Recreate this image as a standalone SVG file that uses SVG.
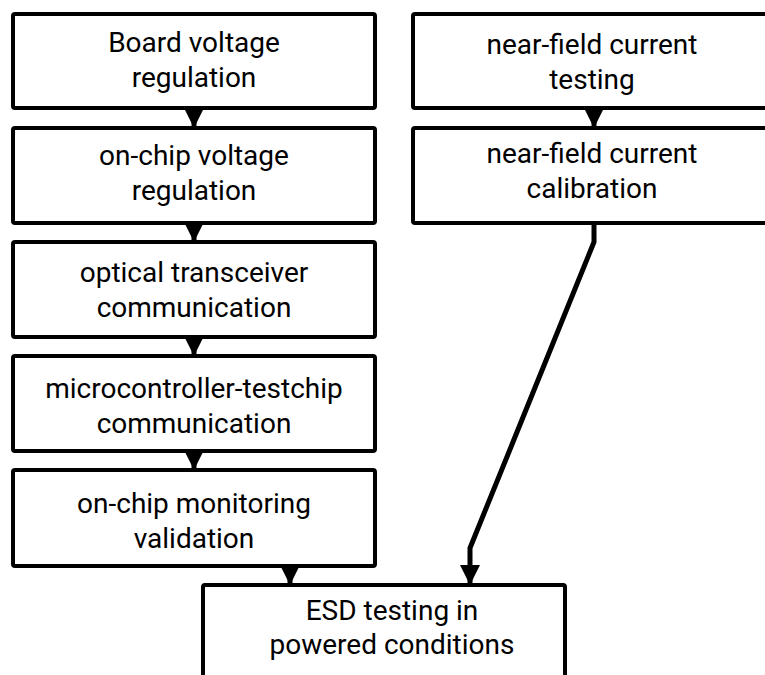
<svg xmlns="http://www.w3.org/2000/svg" width="765" height="675" viewBox="0 0 765 675">
<style>
.box{fill:#fff;stroke:#000;stroke-width:4;}
.lbl{font-family:Roboto,"Liberation Sans",sans-serif;font-size:28px;fill:#000;text-anchor:middle;}
.edge{fill:none;stroke:#000;stroke-width:5;stroke-linejoin:miter;}
</style>
<defs>
<marker id="ah" viewBox="0 0 20 20" refX="20" refY="10" markerWidth="20" markerHeight="20" markerUnits="userSpaceOnUse" orient="auto">
<path d="M0,0 L20,10 L0,20 Z" fill="#000"/>
</marker>
</defs>
<rect width="765" height="675" fill="#fff"/>
<g id="n1"><rect class="box" x="13" y="14" width="362" height="94" rx="2"/><text class="lbl" x="194" y="52">Board voltage</text><text class="lbl" x="194" y="87">regulation</text></g>
<g id="n2"><rect class="box" x="13" y="128" width="362" height="95" rx="2"/><text class="lbl" x="194" y="165">on-chip voltage</text><text class="lbl" x="194" y="200">regulation</text></g>
<g id="n3"><rect class="box" x="13" y="242" width="362" height="95" rx="2"/><text class="lbl" x="194" y="282">optical transceiver</text><text class="lbl" x="194" y="317">communication</text></g>
<g id="n4"><rect class="box" x="13" y="356" width="362" height="95" rx="2"/><text class="lbl" x="194" y="398">microcontroller-testchip</text><text class="lbl" x="194" y="433">communication</text></g>
<g id="n5"><rect class="box" x="13" y="470" width="362" height="96" rx="2"/><text class="lbl" x="194" y="513">on-chip monitoring</text><text class="lbl" x="194" y="548">validation</text></g>
<g id="n6"><rect class="box" x="413" y="14" width="362" height="94" rx="2"/><text class="lbl" x="592" y="54">near-field current</text><text class="lbl" x="592" y="89">testing</text></g>
<g id="n7"><rect class="box" x="413" y="128" width="362" height="95" rx="2"/><text class="lbl" x="592" y="163">near-field current</text><text class="lbl" x="592" y="198">calibration</text></g>
<g id="n8"><rect class="box" x="203" y="585" width="362" height="95" rx="2"/><text class="lbl" x="392" y="620">ESD testing in</text><text class="lbl" x="392" y="654">powered conditions</text></g>
<g id="edges">
<path class="edge" d="M194,108 L194,128" marker-end="url(#ah)"/>
<path class="edge" d="M194,223 L194,242" marker-end="url(#ah)"/>
<path class="edge" d="M194,337 L194,356" marker-end="url(#ah)"/>
<path class="edge" d="M194,451 L194,470" marker-end="url(#ah)"/>
<path class="edge" d="M290,566 L290,585" marker-end="url(#ah)"/>
<path class="edge" d="M594,108 L594,128" marker-end="url(#ah)"/>
<path class="edge" d="M594,223 L594,242 L470,548 L470,585" marker-end="url(#ah)"/>
</g>
</svg>
